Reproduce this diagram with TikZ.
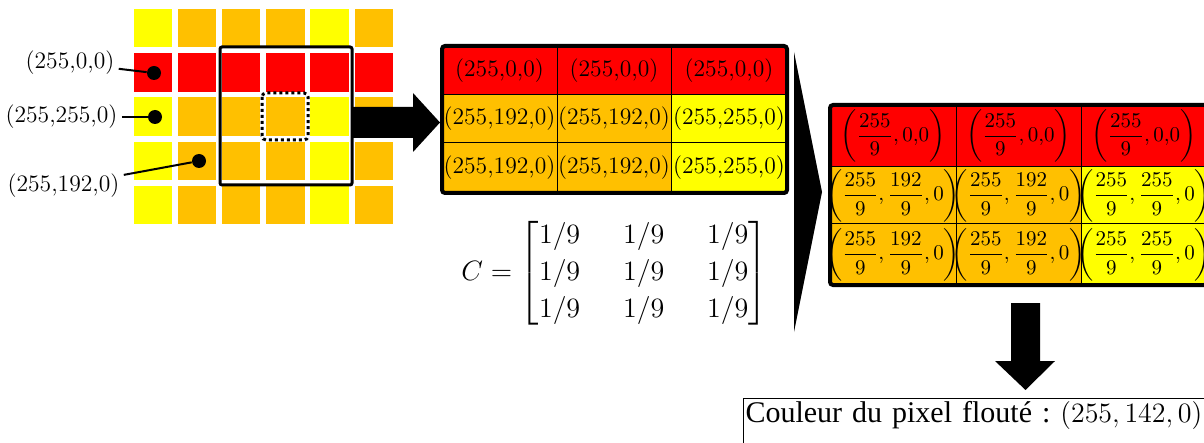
\RequirePackage{fix-cm}
\documentclass[tikz,border=0pt]{standalone}
\usepackage{amsmath}
\usepackage{fontspec}
\newfontfamily\timesfont{Liberation Serif}
\definecolor{pxred}{RGB}{255,0,0}
\definecolor{pxorange}{RGB}{255,192,0}
\definecolor{pxyellow}{RGB}{255,255,0}
\newcommand{\blurval}[1]{\left(\dfrac{255}{9},\dfrac{#1}{9},0\right)}
\begin{document}
\begin{tikzpicture}[x=0.5pt,y=-0.5pt,
    dot/.style={circle,fill=black,inner sep=0pt,minimum size=7pt},
    lab/.style={inner sep=2pt,font=\fontsize{11.8}{14}\selectfont},
    lead/.style={line width=1pt},
    celltxt/.style={inner sep=0pt,font=\fontsize{11.8}{14}\selectfont},
    fractxt/.style={inner sep=0pt,font=\fontsize{10.5}{13}\selectfont},
    rule/.style={line width=0.5pt},
    border/.style={line width=2pt,rounded corners=1.5pt}]
  \useasboundingbox (0,0) rectangle (1204,443);
  \clip (0,0) rectangle (1204,443);
  \def\gx{133.5}\def\gy{9}\def\gp{44.2}\def\gs{38.5}
  \foreach \j in {0,2,3,4}{\foreach \i/\c in {0/pxyellow,1/pxorange,2/pxorange,
      3/pxorange,4/pxyellow,5/pxorange}{
    \fill[\c] (\gx+\i*\gp,\gy+\j*\gp) rectangle ++(\gs,\gs);}}
  \foreach \i in {0,...,5}{\fill[pxred] (\gx+\i*\gp,\gy+\gp) rectangle ++(\gs,\gs);}
  \draw[line width=1.5pt,rounded corners=1pt] (220,47) rectangle (352,185);
  \draw[line width=1.5pt,dash pattern=on 1.5pt off 1.5pt,rounded corners=2pt]
    (262,93) rectangle (308,140);
  \node[dot] (dotR) at (154,73) {};
  \node[dot] (dotY) at (155,117) {};
  \node[dot] (dotO) at (199,161) {};
  \node[lab] (labR) at (70,63) {(255,0,0)};
  \node[lab] (labY) at (61.5,117) {(255,255,0)};
  \node[lab] (labO) at (63.5,186) {(255,192,0)};
  \draw[lead] (labR) -- (dotR);
  \draw[lead] (labY) -- (dotY);
  \draw[lead] (labO) -- (dotO);
  \fill (352,107) -- (413,107) -- (413,93) -- (440,122.5) -- (413,152)
    -- (413,138) -- (352,138) -- cycle;
  \foreach \r/\ya/\yb in {1/46/95,2/95/143,3/143/193}{
    \foreach \c/\xa/\xb in {1/442/557,2/557/671,3/671/787}{
      \ifnum\r=1 \def\hue{pxred}\def\txt{(255,0,0)}\else
        \ifnum\c=3 \def\hue{pxyellow}\def\txt{(255,255,0)}\else
          \def\hue{pxorange}\def\txt{(255,192,0)}\fi\fi
      \fill[\hue] (\xa,\ya) rectangle (\xb,\yb);
      \node[celltxt] (m\r\c) at ({(\xa+\xb)/2},{(\ya+\yb)/2}) {\txt};}}
  \draw[rule] (557,46) -- (557,193) (671,46) -- (671,193)
    (442,95) -- (787,95) (442,143) -- (787,143);
  \draw[border] (442,46) rectangle (787,193);
  \node[font=\fontsize{14}{16}\selectfont,inner sep=0pt] (kernel) at (614.5,273)
    {\setlength{\arraycolsep}{10.75pt}\renewcommand{\arraystretch}{1.16}%
     $C=\begin{bmatrix}1/9&1/9&1/9\\1/9&1/9&1/9\\1/9&1/9&1/9\end{bmatrix}$};
  \fill (794,52) -- (822,192) -- (794,332) -- cycle;
  \foreach \r/\ya/\yb in {1/105/167,2/167/224,3/224/285}{
    \foreach \c/\xa/\xb in {1/830/956,2/956/1081,3/1081/1207}{
      \ifnum\r=1 \def\hue{pxred}\def\txt{$\left(\dfrac{255}{9},0{,}0\right)$}\else
        \ifnum\c=3 \def\hue{pxyellow}\def\txt{$\blurval{255}$}\else
          \def\hue{pxorange}\def\txt{$\blurval{192}$}\fi\fi
      \fill[\hue] (\xa,\ya) rectangle (\xb,\yb);
      \node[fractxt] (b\r\c) at ({(\xa+\xb)/2},{(\ya+\yb)/2}) {\txt};}}
  \draw[rule] (956,105) -- (956,285) (1081,105) -- (1081,285)
    (830,167) -- (1207,167) (830,224) -- (1207,224);
  \draw[border] (830,105) rectangle (1207,285);
  \fill (1011,303) -- (1040,303) -- (1040,361) -- (1055,361) -- (1025.5,390)
    -- (995,361) -- (1011,361) -- cycle;
  \node[draw,rule,anchor=base west,inner xsep=1pt,inner ysep=1pt,
    text height=11pt,text depth=14pt,text width=231pt,align=left,
    font=\timesfont\fontsize{15}{18}\selectfont] (result) at (743,422)
    {Couleur du pixel flouté :~{\fontsize{14}{17}\selectfont$(255,142,0)$}};
\end{tikzpicture}
\end{document}
